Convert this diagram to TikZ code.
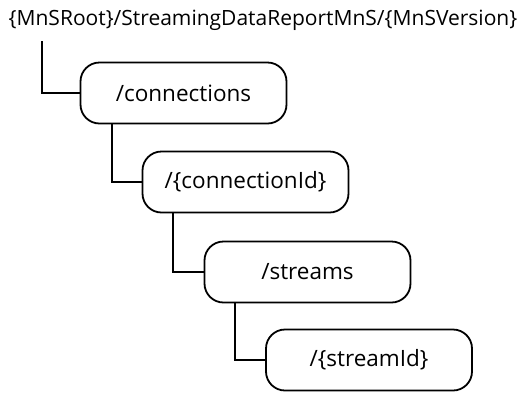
\documentclass[tikz,border=0pt]{standalone}
\usepackage{fontspec}
\setmainfont{Open Sans}
\begin{document}
\begin{tikzpicture}[x=1pt,y=-1pt,
  res/.style={draw=black,line width=1.8pt,rounded corners=19pt,minimum width=206pt,minimum height=61pt,inner sep=0pt,font=\fontsize{22.5}{26}\selectfont},
  conn/.style={draw=black,line width=1.8pt},
  roottext/.style={inner sep=0pt,font=\fontsize{21}{24}\selectfont}]
\useasboundingbox (0,0) rectangle (525,392);
\node[roottext] (root) at (263,20) {\{MnSRoot\}/StreamingDataReportMnS/\{MnSVersion\}};
\coordinate (rl) at (42,41);
\node[res] (b1) at (183.5,93) {/connections};
\node[res] (b2) at (245.5,182) {/\{connectionId\}};
\node[res] (b3) at (307.5,272) {/streams};
\node[res] (b4) at (369,360) {/\{streamId\}};
\draw[conn] (rl) |- (b1.west);
\draw[conn] ([xshift=32pt]b1.south west) |- (b2.west);
\draw[conn] ([xshift=31pt]b2.south west) |- (b3.west);
\draw[conn] ([xshift=31pt]b3.south west) |- (b4.west);
\end{tikzpicture}
\end{document}
